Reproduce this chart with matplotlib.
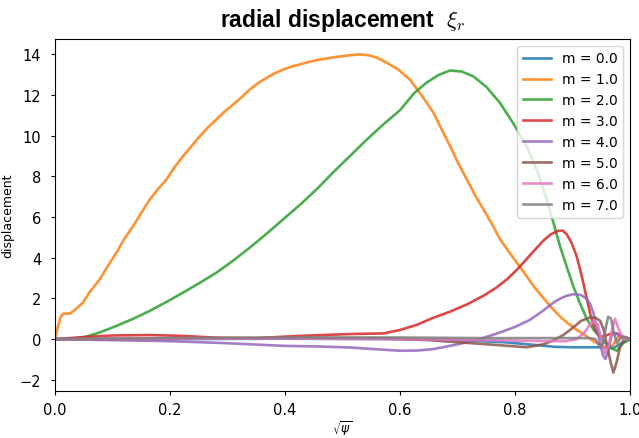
import numpy as np
import matplotlib.pyplot as plt

# values, x = sqrt(psi)
m_labels = ["m = 0.0", "m = 1.0", "m = 2.0", "m = 3.0",
            "m = 4.0", "m = 5.0", "m = 6.0", "m = 7.0"]

x_m0 = [0.0, 0.2, 0.4, 0.6, 0.7, 0.78, 0.84, 0.87, 0.9, 0.95, 0.97, 0.985, 1.0]
y_m0 = [0.0, 0.0, 0.02, 0.0, -0.05, -0.15, -0.3, -0.38, -0.4, -0.4, -0.45, -0.2, 0.0]

x_m1 = [0.0, 0.005, 0.01, 0.0145, 0.026, 0.035, 0.049, 0.06, 0.078, 0.092, 0.107,
        0.12, 0.136, 0.15, 0.165, 0.18, 0.194, 0.208, 0.223, 0.238, 0.252, 0.266,
        0.281, 0.295, 0.31, 0.325, 0.339, 0.353, 0.368, 0.382, 0.397, 0.411, 0.426,
        0.44, 0.455, 0.485, 0.513, 0.53, 0.545, 0.56, 0.577, 0.597, 0.617, 0.637,
        0.658, 0.672, 0.687, 0.701, 0.716, 0.73, 0.745, 0.76, 0.774, 0.789, 0.803,
        0.818, 0.832, 0.847, 0.861, 0.875, 0.89, 0.905, 0.919, 0.936, 0.95, 0.96,
        0.97, 0.98, 0.99, 1.0]
y_m1 = [0.0, 0.6, 1.1, 1.25, 1.25, 1.45, 1.8, 2.3, 2.94, 3.6, 4.25, 4.9, 5.56, 6.2,
        6.87, 7.4, 7.85, 8.45, 9.0, 9.5, 9.98, 10.4, 10.8, 11.18, 11.53, 11.9, 12.27,
        12.58, 12.84, 13.06, 13.25, 13.39, 13.5, 13.61, 13.71, 13.85, 13.95, 13.99,
        13.95, 13.83, 13.58, 13.25, 12.76, 12.0, 11.13, 10.33, 9.49, 8.66, 7.85, 7.1,
        6.38, 5.65, 4.91, 4.3, 3.76, 3.18, 2.62, 2.1, 1.63, 1.2, 0.82, 0.5, 0.25,
        -0.1, -0.3, -0.45, -0.3, 0.15, 0.05, 0.0]

x_m2 = [0.0, 0.026, 0.049, 0.078, 0.107, 0.136, 0.165, 0.194, 0.223, 0.252, 0.281,
        0.31, 0.339, 0.368, 0.397, 0.426, 0.455, 0.484, 0.513, 0.542, 0.571, 0.6,
        0.625, 0.646, 0.667, 0.687, 0.707, 0.727, 0.75, 0.774, 0.797, 0.82, 0.838,
        0.855, 0.867, 0.878, 0.89, 0.901, 0.913, 0.925, 0.937, 0.948, 0.958, 0.968,
        0.977, 0.988, 1.0]
y_m2 = [0.0, 0.02, 0.08, 0.33, 0.65, 1.0, 1.39, 1.83, 2.29, 2.77, 3.27, 3.86, 4.5,
        5.18, 5.89, 6.6, 7.36, 8.2, 9.0, 9.8, 10.55, 11.25, 12.1, 12.6, 12.98, 13.2,
        13.15, 12.92, 12.4, 11.6, 10.6, 9.49, 8.3, 6.87, 5.7, 4.58, 3.55, 2.62, 1.75,
        0.98, 0.45, 0.1, -0.2, -0.45, -0.57, -0.2, 0.0]

x_m3 = [0.0, 0.05, 0.1, 0.165, 0.22, 0.281, 0.35, 0.426, 0.513, 0.571, 0.6, 0.629,
        0.658, 0.687, 0.716, 0.745, 0.766, 0.786, 0.803, 0.82, 0.835, 0.849, 0.862,
        0.875, 0.883, 0.89, 0.898, 0.907, 0.916, 0.925, 0.932, 0.939, 0.948, 0.96,
        0.97, 0.98, 0.99, 1.0]
y_m3 = [0.0, 0.1, 0.18, 0.2, 0.16, 0.07, 0.05, 0.16, 0.25, 0.28, 0.45, 0.7, 1.05,
        1.35, 1.7, 2.13, 2.5, 2.94, 3.4, 3.93, 4.4, 4.83, 5.15, 5.32, 5.33, 5.15, 4.75,
        4.09, 3.1, 1.96, 1.1, 0.49, 0.1, 0.2, 0.3, 0.25, 0.1, 0.0]

x_m4 = [0.0, 0.1, 0.2, 0.3, 0.397, 0.455, 0.513, 0.56, 0.6, 0.63, 0.658, 0.687,
        0.716, 0.745, 0.774, 0.8, 0.826, 0.849, 0.867, 0.879, 0.89, 0.9, 0.907,
        0.916, 0.925, 0.931, 0.936, 0.942, 0.948, 0.953, 0.957, 0.962, 0.968, 0.975,
        0.985, 1.0]
y_m4 = [0.0, -0.05, -0.1, -0.2, -0.33, -0.36, -0.41, -0.5, -0.57, -0.56, -0.49,
        -0.33, -0.16, 0.06, 0.33, 0.6, 0.95, 1.4, 1.8, 2.0, 2.13, 2.2, 2.21, 2.15,
        1.96, 1.7, 1.31, 0.6, -0.2, -0.8, -0.98, -0.6, 0.2, 0.3, 0.1, 0.0]

x_m5 = [0.0, 0.2, 0.4, 0.55, 0.65, 0.75, 0.82, 0.85, 0.867, 0.884, 0.9, 0.915, 0.93,
        0.94, 0.948, 0.955, 0.96, 0.966, 0.971, 0.977, 0.983, 0.99, 1.0]
y_m5 = [0.0, 0.02, 0.05, 0.05, -0.05, -0.25, -0.4, -0.25, -0.05, 0.2, 0.55, 0.9,
        1.06, 1.05, 0.9, 0.4, -0.33, -1.1, -1.65, -1.1, -0.33, 0.0, 0.0]

x_m6 = [0.0, 0.2, 0.4, 0.6, 0.75, 0.85, 0.89, 0.907, 0.92, 0.93, 0.937, 0.944,
        0.95, 0.956, 0.962, 0.968, 0.974, 0.98, 0.988, 1.0]
y_m6 = [0.0, 0.02, 0.03, 0.0, -0.05, -0.1, -0.1, 0.0, 0.3, 0.7, 0.9, 0.7, 0.0,
        -0.7, -0.4, 0.4, 1.0, 0.5, 0.0, 0.0]

x_m7 = [0.0, 0.2, 0.4, 0.6, 0.75, 0.85, 0.9, 0.93, 0.94, 0.948, 0.953, 0.958,
        0.962, 0.967, 0.972, 0.977, 0.985, 0.993, 1.0]
y_m7 = [0.0, 0.05, 0.08, 0.08, 0.05, 0.05, 0.05, 0.05, 0.0, -0.4, -0.2, 0.6, 1.1,
        1.0, 0.3, -0.2, 0.1, 0.1, 0.0]

xs = [x_m0, x_m1, x_m2, x_m3, x_m4, x_m5, x_m6, x_m7]
ys = [y_m0, y_m1, y_m2, y_m3, y_m4, y_m5, y_m6, y_m7]

fig, ax = plt.subplots(figsize=(6.39, 4.39), dpi=100)
fig.subplots_adjust(left=0.086, right=0.986, bottom=0.107, top=0.909)

for x, y, lab in zip(xs, ys, m_labels):
    ax.plot(x, y, lw=1.9, alpha=0.85, label=lab)

ax.set_xlim(0, 1)
ax.set_ylim(-2.55, 14.75)
ax.set_xlabel(r"$\sqrt{\psi}$", fontsize=9, labelpad=1)
ax.set_ylabel("displacement", fontsize=9)
ax.tick_params(labelsize=10.5, length=3, pad=5)
ax.tick_params(axis="y", pad=7)
ax.set_title(r"radial displacement  $\xi_r$", fontsize=16.5, fontweight="bold",
             fontfamily="Liberation Sans", math_fontfamily="cm", pad=9)
ax.legend(loc="upper right", fontsize=10)

plt.savefig("out.png")
